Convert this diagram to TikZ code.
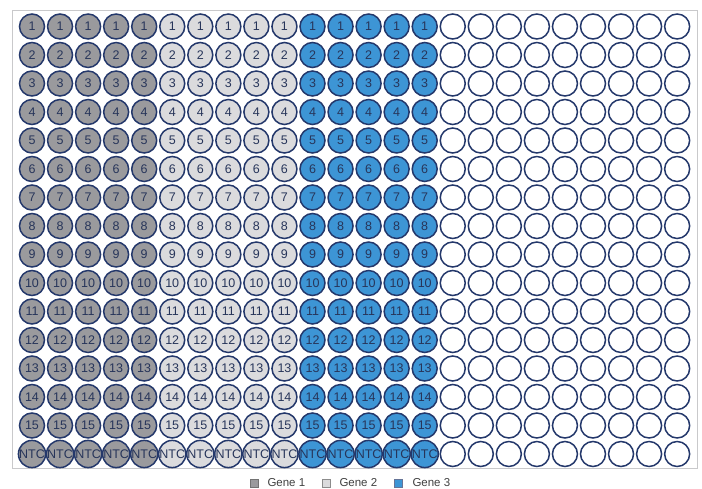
\documentclass[tikz,border=0pt]{standalone}
\usepackage{fontspec}
\setmainfont{Liberation Sans}
\usetikzlibrary{positioning}
\definecolor{contour}{HTML}{24386B}
\definecolor{texte}{HTML}{27355A}
\definecolor{cadre}{HTML}{C9C9CB}
\definecolor{geneun}{HTML}{9A9A9D}
\definecolor{genedeux}{HTML}{DBDBDD}
\definecolor{genetrois}{HTML}{3D95D5}

\tikzset{
  puits/.style={circle, draw=contour, line width=1.5pt, minimum size=25pt,
    inner sep=0pt, text=texte, font=\fontsize{12.5}{12.5}\selectfont},
  gA/.style={puits, fill=geneun},
  gB/.style={puits, fill=genedeux},
  gC/.style={puits, fill=genetrois},
  vide/.style={puits, fill=white},
  carre/.style={rectangle, minimum size=8pt, inner sep=0pt, line width=0.6pt},
  legende/.style={inner sep=0pt, anchor=west, text=black!75, font=\fontsize{11.5}{11.5}\selectfont}
}

\begin{document}
\begin{tikzpicture}[x=1pt,y=-1pt]
  \useasboundingbox (0,0) rectangle (702,489);

  % Cadre de la plaque
  \coordinate (HG) at (12,11);
  \coordinate (BD) at (697,468);
  \draw[cadre, line width=1pt] (HG) rectangle (BD);

  % Puits
  \foreach \lab [count=\r] in {1,2,3,4,5,6,7,8,9,10,11,12,13,14,15,NTC} {
    \foreach \c in {1,...,5}
      \node[gA] (w-\r-\c) at ({32+(\c-1)*28.05},{26.5+(\r-1)*28.5}) {\lab};
    \foreach \c in {6,...,10}
      \node[gB] (w-\r-\c) at ({32+(\c-1)*28.05},{26.5+(\r-1)*28.5}) {\lab};
    \foreach \c in {11,...,15}
      \node[gC] (w-\r-\c) at ({32+(\c-1)*28.05},{26.5+(\r-1)*28.5}) {\lab};
    \foreach \c in {16,...,24}
      \node[vide] (w-\r-\c) at ({32+(\c-1)*28.05},{26.5+(\r-1)*28.5}) {};
  }

  % Legende
  \node[carre, draw=black!55, fill=geneun] (l1) at (254,483) {};
  \node[legende, right=9pt of l1] (t1) {Gene 1};
  \node[carre, draw=black!45, fill=genedeux] (l2) at (326,483) {};
  \node[legende, right=9pt of l2] (t2) {Gene 2};
  \node[carre, draw=contour!70, fill=genetrois] (l3) at (398,483) {};
  \node[legende, right=10pt of l3] (t3) {Gene 3};
\end{tikzpicture}
\end{document}
